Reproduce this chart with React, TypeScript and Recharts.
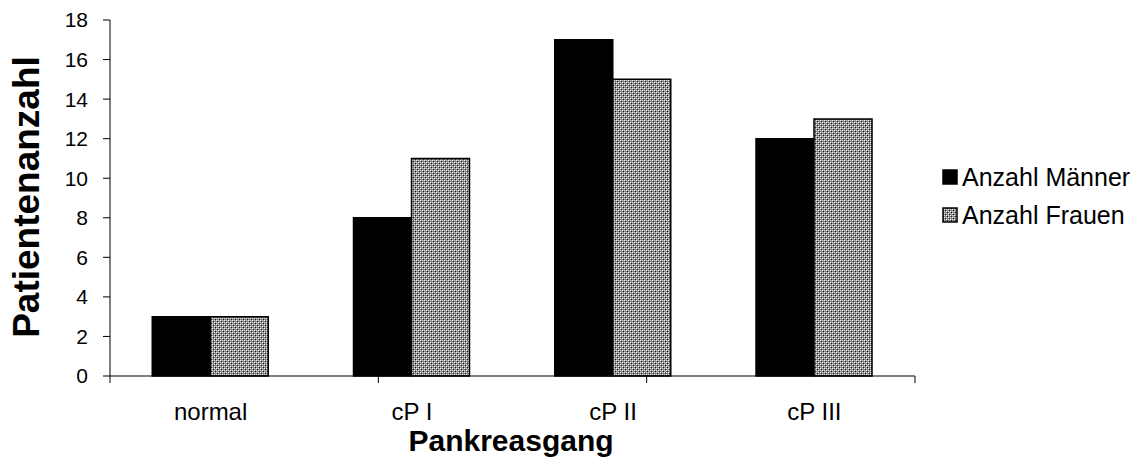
import { BarChart, Bar, XAxis, YAxis, Legend } from "recharts";

const FONT = "Arial, 'Liberation Sans', sans-serif";

const categories = ["normal", "cP I", "cP II", "cP III"];
const maenner = [3, 8, 17, 12];
const frauen = [3, 11, 15, 13];
const yTicks = [0, 2, 4, 6, 8, 10, 12, 14, 16, 18];
const edgeTicks = [0, 1, 2, 3, 4];
const seriesOrder = ["maenner", "frauen"];

const data = categories.map((name, i) => ({
  name,
  maenner: maenner[i],
  frauen: frauen[i],
}));

function LegendBox({ payload }: any) {
  const items = [...(payload ?? [])].sort(
    (a: any, b: any) => seriesOrder.indexOf(a.dataKey) - seriesOrder.indexOf(b.dataKey)
  );
  return (
    <div style={{ fontFamily: FONT, fontSize: 25, color: "#000" }}>
      {items.map((entry: any, i: number) => (
        <div key={entry.value ?? i} style={{ display: "flex", alignItems: "center", height: 38 }}>
          <svg width={17} height={17} style={{ marginRight: 3 }}>
            <rect x={1} y={1} width={14} height={14} fill={entry.color} stroke="#000" strokeWidth={1.5} />
          </svg>
          <span>{entry.value}</span>
        </div>
      ))}
    </div>
  );
}

export default function App() {
  return (
    <div style={{ position: "absolute", left: 0, top: 0, background: "#fff" }}>
      <BarChart
        width={1144}
        height={475}
        data={data}
        margin={{ top: 20, right: 229, bottom: 58, left: 0 }}
        barCategoryGap="21%"
        barGap={0}
      >
        <defs>
          <pattern id="dither" width={4} height={4} patternUnits="userSpaceOnUse">
            <rect width={4} height={4} fill="#858585" />
            <rect x={0} y={0} width={1} height={1} fill="#fff" />
            <rect x={2} y={2} width={1} height={1} fill="#fff" />
            <rect x={2} y={0} width={1} height={1} fill="#dcdcdc" />
            <rect x={0} y={2} width={1} height={1} fill="#dcdcdc" />
            <rect x={1} y={1} width={1} height={1} fill="#202020" />
            <rect x={3} y={3} width={1} height={1} fill="#202020" />
          </pattern>
        </defs>
        {/* boundary ticks between categories */}
        <XAxis
          xAxisId="a"
          type="number"
          domain={[0, 4]}
          allowDataOverflow
          ticks={edgeTicks}
          interval={0}
          height={1}
          tickFormatter={() => ""}
          tickSize={7}
          stroke="#000"
          axisLine={{ stroke: "#000" }}
          tickLine={{ stroke: "#000" }}
        />
        <XAxis
          xAxisId="b"
          dataKey="name"
          height={40}
          axisLine={false}
          tickLine={false}
          tickMargin={20}
          tick={{ fill: "#000", fontSize: 24, fontFamily: FONT }}
          label={{
            content: () => (
              <text x={511} y={451} textAnchor="middle" fontFamily={FONT} fontSize={30} fontWeight="bold" fill="#000">
                Pankreasgang
              </text>
            ),
          }}
        />
        <YAxis
          width={110}
          domain={[0, 18]}
          ticks={yTicks}
          interval={0}
          stroke="#000"
          tickSize={7}
          tickMargin={15}
          tick={{ fill: "#000", fontSize: 21, fontFamily: FONT }}
          label={{
            content: () => (
              <text
                x={39}
                y={197}
                transform="rotate(-90 39 197)"
                textAnchor="middle"
                fontFamily={FONT}
                fontSize={37}
                fontWeight="bold"
                fill="#000"
              >
                Patientenanzahl
              </text>
            ),
          }}
        />
        <Legend
          layout="vertical"
          align="center"
          verticalAlign="middle"
          content={<LegendBox />}
          wrapperStyle={{ left: 942, top: 158, width: 202 }}
        />
        <Bar xAxisId="b" dataKey="maenner" name="Anzahl Männer" fill="#000" stroke="#000" strokeWidth={1.5} isAnimationActive={false} />
        <Bar xAxisId="b" dataKey="frauen" name="Anzahl Frauen" fill="url(#dither)" stroke="#000" strokeWidth={1.5} isAnimationActive={false} />
      </BarChart>
    </div>
  );
}
